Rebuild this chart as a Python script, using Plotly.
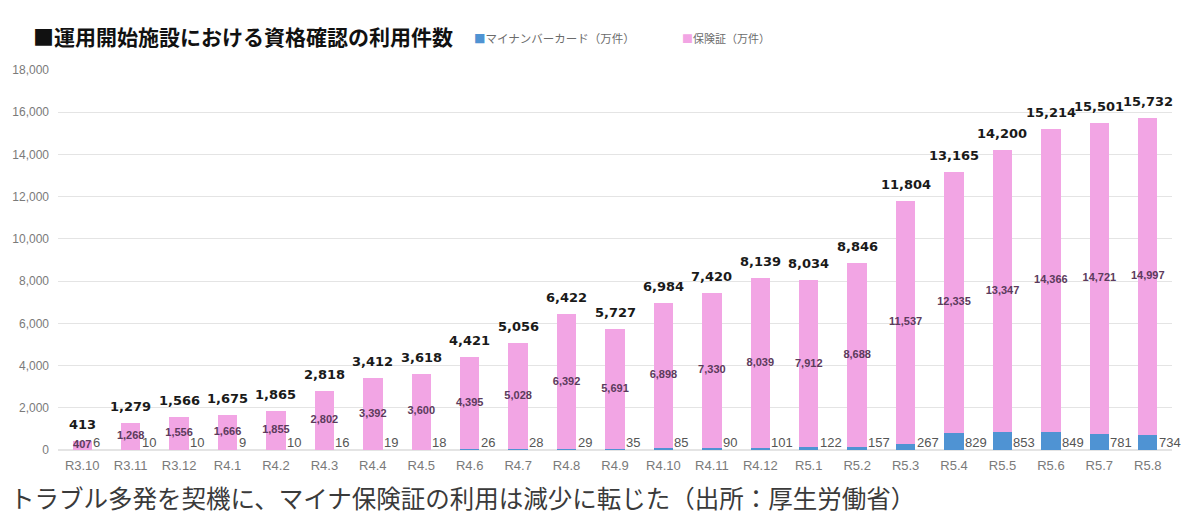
import plotly.graph_objects as go

months = ['R3.10', 'R3.11', 'R3.12', 'R4.1', 'R4.2', 'R4.3', 'R4.4', 'R4.5', 'R4.6', 'R4.7', 'R4.8', 'R4.9',
          'R4.10', 'R4.11', 'R4.12', 'R5.1', 'R5.2', 'R5.3', 'R5.4', 'R5.5', 'R5.6', 'R5.7', 'R5.8']
mynacard = [6, 10, 10, 9, 10, 16, 19, 18, 26, 28, 29, 35, 85, 90, 101, 122, 157, 267, 829, 853, 849, 781, 734]
hokensho = [407, 1268, 1556, 1666, 1855, 2802, 3392, 3600, 4395, 5028, 6392, 5691, 6898, 7330, 8039, 7912,
            8688, 11537, 12335, 13347, 14366, 14721, 14997]
totals = [413, 1279, 1566, 1675, 1865, 2818, 3412, 3618, 4421, 5056, 6422, 5727, 6984, 7420, 8139, 8034,
          8846, 11804, 13165, 14200, 15214, 15501, 15732]
y_ticks = [0, 2000, 4000, 6000, 8000, 10000, 12000, 14000, 16000, 18000]

BLUE = '#4f93d3'
PINK = '#f2a5e4'

# page body has an 8px margin, so the figure is a bit smaller than the window
W, H = 1192, 512
ML, MR, MT, MB = 50, 28, 62, 70
PW, PH = W - ML - MR, H - MT - MB

fig = go.Figure()
fig.add_trace(go.Bar(x=months, y=mynacard, name='マイナンバーカード（万件）',
                     marker=dict(color=BLUE, line=dict(width=0))))
fig.add_trace(go.Bar(x=months, y=hokensho, name='保険証（万件）',
                     marker=dict(color=PINK, line=dict(width=0))))

# pink value labels in the middle of the pink segment
fig.add_trace(go.Scatter(
    x=months,
    y=[m + h / 2 for m, h in zip(mynacard, hokensho)],
    text=[f'<b>{h:,}</b>' for h in hokensho],
    mode='text',
    textfont=dict(family='Liberation Sans', size=11, color='#5c3b5c'),
    showlegend=False, hoverinfo='skip'
))

annotations = []
for m, b, t in zip(months, mynacard, totals):
    # blue value to the right of the bar
    annotations.append(dict(x=m, y=0, text=str(b), showarrow=False, xanchor='left', yanchor='bottom',
                            xshift=9, yshift=-2,
                            font=dict(family='Liberation Sans', size=13, color='#555555')))
    # total above the bar
    annotations.append(dict(x=m, y=t, text=f'<b>{t:,}</b>', showarrow=False, yanchor='bottom', yshift=7,
                            font=dict(family='DejaVu Sans', size=13, color='#1a1a1a')))

# legend as text next to the title
leg_y = 1 + (70 - 38) / PH
annotations.append(dict(xref='paper', yref='paper', x=(472 - 58) / PW, y=leg_y,
                        xanchor='left', yanchor='middle', showarrow=False,
                        text=f'<span style="color:{BLUE}">■</span>マイナンバーカード（万件）',
                        font=dict(family='Noto Sans CJK JP', size=11.5, color='#6b6b6b')))
annotations.append(dict(xref='paper', yref='paper', x=(680 - 58) / PW, y=leg_y,
                        xanchor='left', yanchor='middle', showarrow=False,
                        text=f'<span style="color:{PINK}">■</span>保険証（万件）',
                        font=dict(family='Noto Sans CJK JP', size=11, color='#6b6b6b')))
# caption under the chart
annotations.append(dict(xref='paper', yref='paper', x=-ML / PW, y=-(497 - 450) / PH,
                        xanchor='left', yanchor='middle', showarrow=False,
                        text='トラブル多発を契機に、マイナ保険証の利用は減少に転じた（出所：厚生労働省）',
                        font=dict(family='Noto Sans CJK JP', size=24.5, color='#3a3a3a')))

fig.update_layout(
    width=W, height=H,
    barmode='stack', bargap=0.6,
    paper_bgcolor='white', plot_bgcolor='white',
    margin=dict(l=ML, r=MR, t=MT, b=MB),
    showlegend=False,
    title=dict(text='<b>■運用開始施設における資格確認の利用件数</b>', xref='container', yref='container',
               x=25 / W, y=1 - 30 / H, xanchor='left', yanchor='middle',
               font=dict(family='Noto Sans CJK JP', size=21, color='#111111')),
    xaxis=dict(range=[-0.5, len(months) - 0.5], showgrid=False, showline=False, ticks='',
               ticklabelstandoff=6, automargin=False,
               tickfont=dict(family='Liberation Sans', size=13, color='#7a7a7a')),
    yaxis=dict(range=[0, 18000], tickvals=y_ticks, tickformat=',', showgrid=True, gridcolor='#e4e4e4',
               zeroline=True, zerolinecolor='#e4e4e4', showline=False, ticks='', ticklabelstandoff=8,
               automargin=False,
               tickfont=dict(family='Liberation Sans', size=12, color='#7a7a7a')),
    annotations=annotations,
)

fig.write_html('out.html')
